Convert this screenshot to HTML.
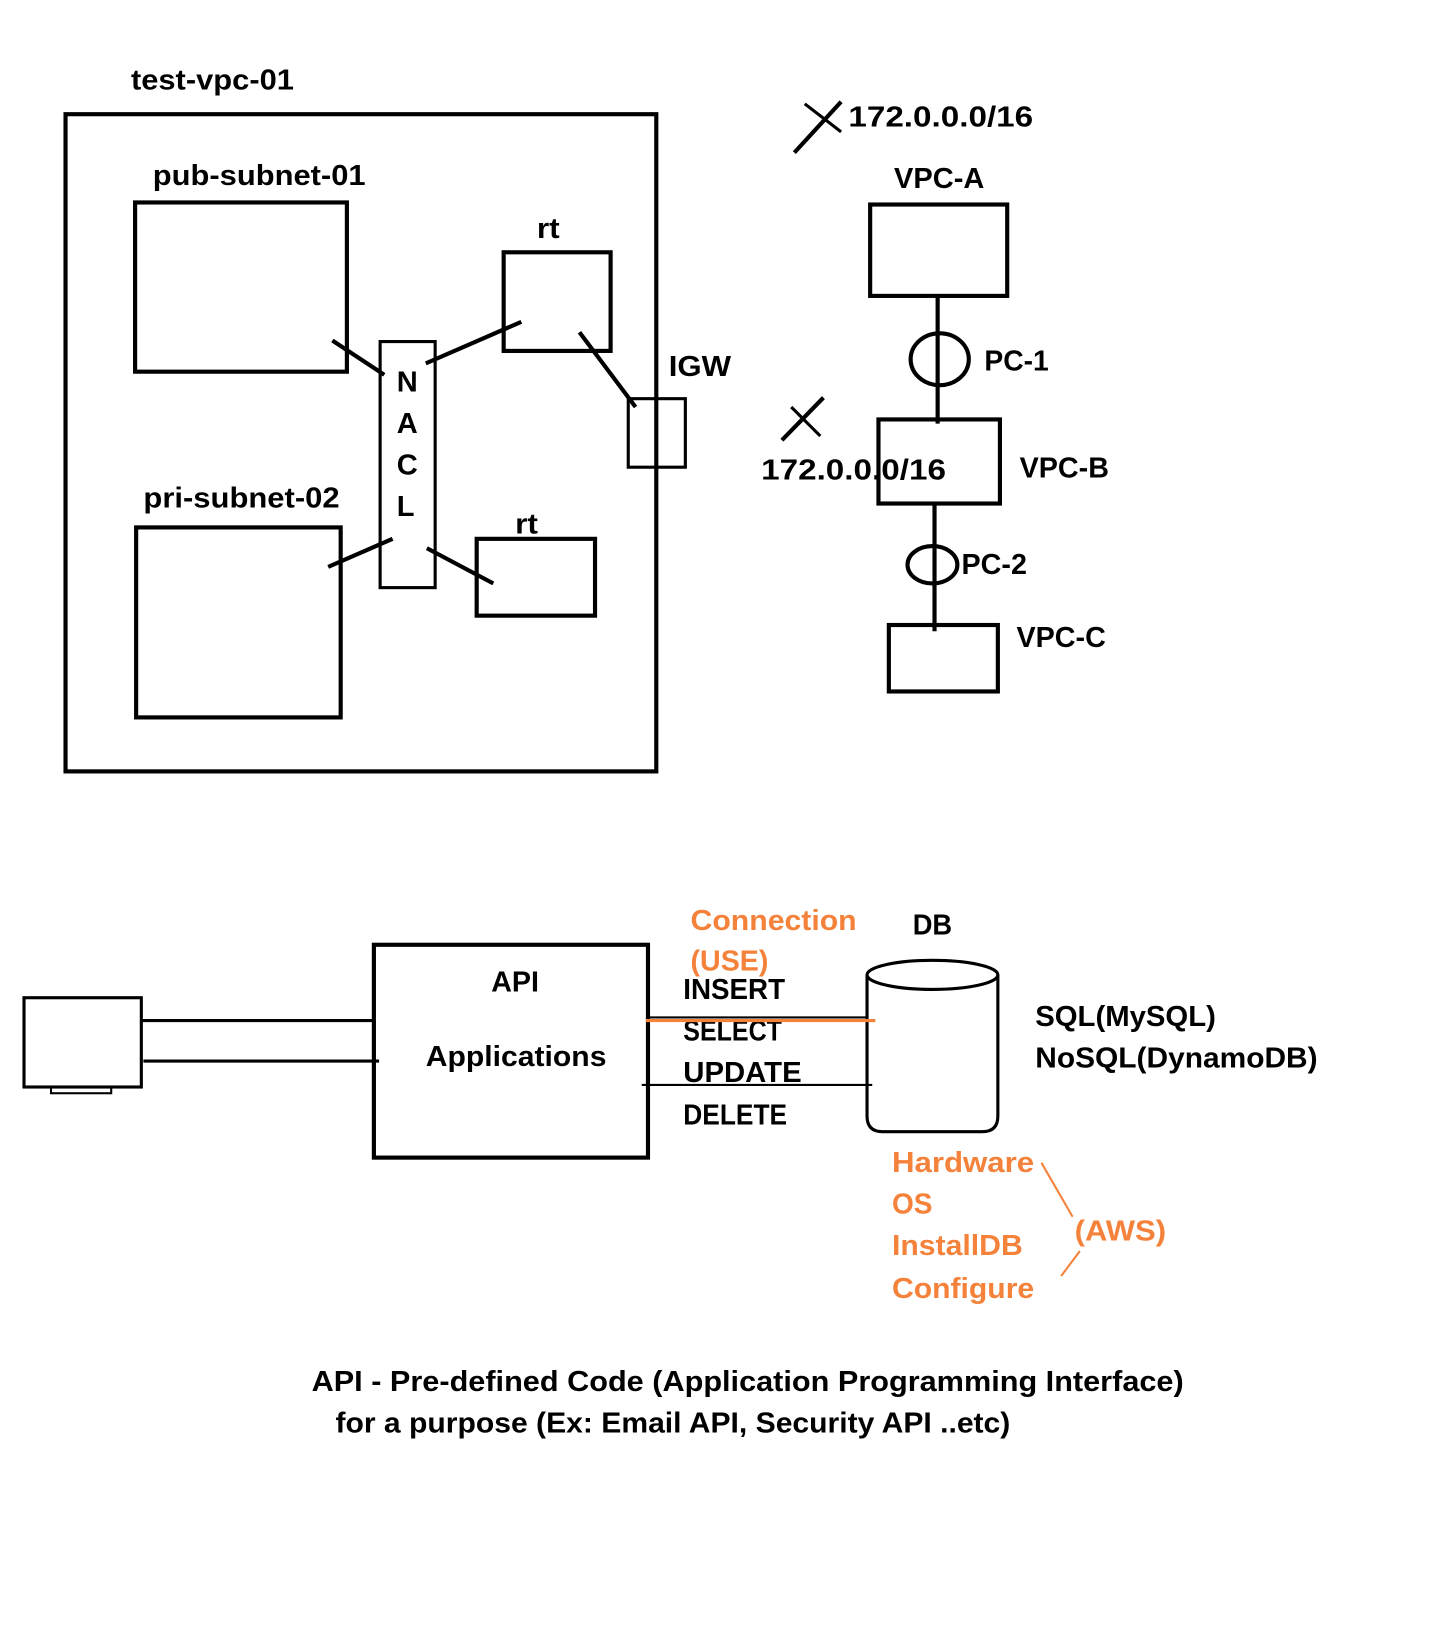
<!DOCTYPE html>
<html><head><meta charset="utf-8"><style>html,body{margin:0;padding:0;background:#fff}svg{display:block}</style></head>
<body>
<svg xmlns="http://www.w3.org/2000/svg" width="1433" height="1630" viewBox="0 0 1380 1570">
<rect width="1380" height="1570" fill="#fff"/>
<g font-family="Liberation Sans, sans-serif" font-weight="bold" font-size="28" fill="#000" lengthAdjust="spacingAndGlyphs">
<text x="126" y="86" textLength="157" lengthAdjust="spacingAndGlyphs">test-vpc-01</text>
<text x="147" y="178" textLength="205" lengthAdjust="spacingAndGlyphs">pub-subnet-01</text>
<text x="517" y="229" textLength="22" lengthAdjust="spacingAndGlyphs">rt</text>
<text x="496" y="514" textLength="22" lengthAdjust="spacingAndGlyphs">rt</text>
<text x="644" y="362" textLength="60" lengthAdjust="spacingAndGlyphs">IGW</text>
<text x="138" y="489" textLength="189" lengthAdjust="spacingAndGlyphs">pri-subnet-02</text>
<text x="382" y="377">N</text><text x="382" y="417">A</text><text x="382" y="457">C</text><text x="382" y="497">L</text>
<text x="817" y="122" textLength="178" lengthAdjust="spacingAndGlyphs">172.0.0.0/16</text>
<text x="861" y="181" textLength="87" lengthAdjust="spacingAndGlyphs">VPC-A</text>
<text x="948" y="357" textLength="62" lengthAdjust="spacingAndGlyphs">PC-1</text>
<text x="733" y="462" textLength="178" lengthAdjust="spacingAndGlyphs">172.0.0.0/16</text>
<text x="982" y="460" textLength="86" lengthAdjust="spacingAndGlyphs">VPC-B</text>
<text x="926" y="553" textLength="63" lengthAdjust="spacingAndGlyphs">PC-2</text>
<text x="979" y="623" textLength="86" lengthAdjust="spacingAndGlyphs">VPC-C</text>
<text x="879" y="900" textLength="38" lengthAdjust="spacingAndGlyphs">DB</text>
<text x="473" y="955" textLength="46" lengthAdjust="spacingAndGlyphs">API</text>
<text x="410" y="1027" textLength="174" lengthAdjust="spacingAndGlyphs">Applications</text>
<text x="658" y="962" textLength="98" lengthAdjust="spacingAndGlyphs">INSERT</text>
<text x="658" y="1002" textLength="95" lengthAdjust="spacingAndGlyphs">SELECT</text>
<text x="658" y="1042" textLength="114" lengthAdjust="spacingAndGlyphs">UPDATE</text>
<text x="658" y="1083" textLength="100" lengthAdjust="spacingAndGlyphs">DELETE</text>
<text x="997" y="988" textLength="174" lengthAdjust="spacingAndGlyphs">SQL(MySQL)</text>
<text x="997" y="1028" textLength="272" lengthAdjust="spacingAndGlyphs">NoSQL(DynamoDB)</text>
<text x="300" y="1340" textLength="840" lengthAdjust="spacingAndGlyphs">API - Pre-defined Code (Application Programming Interface)</text>
<text x="323" y="1380" textLength="650" lengthAdjust="spacingAndGlyphs">for a purpose (Ex: Email API, Security API ..etc)</text>
<g fill="#f4823a">
<text x="665" y="896" textLength="160" lengthAdjust="spacingAndGlyphs">Connection</text>
<text x="665" y="935" textLength="75" lengthAdjust="spacingAndGlyphs">(USE)</text>
<text x="859" y="1129" textLength="137" lengthAdjust="spacingAndGlyphs">Hardware</text>
<text x="859" y="1169" textLength="39" lengthAdjust="spacingAndGlyphs">OS</text>
<text x="859" y="1209" textLength="126" lengthAdjust="spacingAndGlyphs">InstallDB</text>
<text x="859" y="1250" textLength="137" lengthAdjust="spacingAndGlyphs">Configure</text>
<text x="1035" y="1195" textLength="88" lengthAdjust="spacingAndGlyphs">(AWS)</text>
</g>
</g>
<g fill="none" stroke="#000" stroke-width="4">
<rect x="63" y="110" width="569" height="633"/>
<rect x="130" y="195" width="204" height="163"/>
<rect x="485" y="243" width="103" height="95"/>
<rect x="366" y="329" width="53" height="237" stroke-width="3"/>
<rect x="605" y="384" width="55" height="66" stroke-width="3"/>
<rect x="131" y="508" width="197" height="183"/>
<rect x="459" y="519" width="114" height="74"/>
<line x1="320" y1="328" x2="370" y2="361"/>
<line x1="410" y1="350" x2="502" y2="310"/>
<line x1="558" y1="320" x2="612" y2="392"/>
<line x1="316" y1="546" x2="378" y2="519"/>
<line x1="411" y1="528" x2="475" y2="562"/>
<line x1="765" y1="147" x2="810" y2="98"/>
<line x1="775" y1="100" x2="810" y2="127" stroke-width="3"/>
<line x1="753" y1="424" x2="793" y2="383"/>
<line x1="762" y1="392" x2="790" y2="420" stroke-width="3"/>
<rect x="838" y="197" width="132" height="88"/>
<line x1="903" y1="285" x2="903" y2="408"/>
<ellipse cx="905" cy="346" rx="28" ry="25"/>
<rect x="846" y="404" width="117" height="81"/>
<line x1="900" y1="485" x2="900" y2="608"/>
<ellipse cx="898" cy="544" rx="24" ry="18"/>
<rect x="856" y="602" width="105" height="64"/>
<rect x="23" y="961" width="113" height="86" stroke-width="3"/>
<rect x="49" y="1047" width="58" height="6" stroke-width="2"/>
<line x1="136" y1="983" x2="360" y2="983" stroke-width="3"/>
<line x1="138" y1="1022" x2="365" y2="1022" stroke-width="3"/>
<rect x="360" y="910" width="264" height="205"/>
<line x1="624" y1="980" x2="835" y2="980" stroke-width="2"/>
<line x1="618" y1="1045" x2="840" y2="1045" stroke-width="2"/>
<path d="M835 939 L835 1075 Q835 1090 850 1090 L946 1090 Q961 1090 961 1075 L961 939" stroke-width="3"/>
<ellipse cx="898" cy="939" rx="63" ry="14" stroke-width="3"/>
</g>
<line x1="622" y1="983" x2="843" y2="983" stroke="#f4823a" stroke-width="3"/>
<line x1="1003" y1="1120" x2="1033" y2="1172" stroke="#f4823a" stroke-width="2"/>
<line x1="1040" y1="1205" x2="1022" y2="1229" stroke="#f4823a" stroke-width="2"/>
</svg>
</body></html>
